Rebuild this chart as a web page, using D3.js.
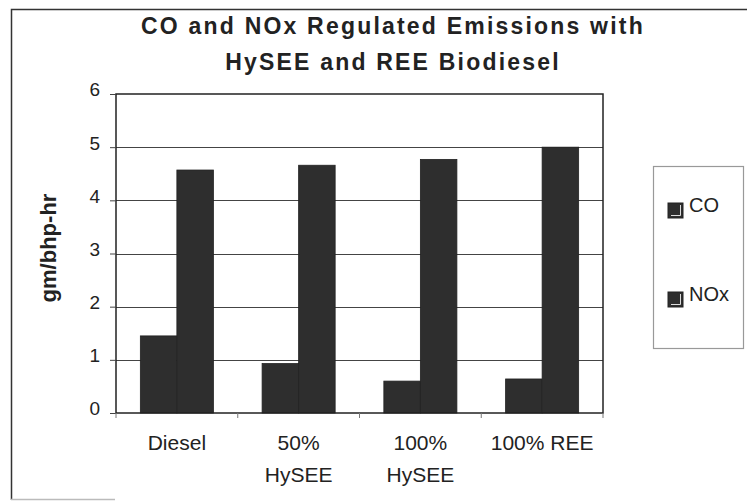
<!DOCTYPE html>
<html>
<head>
<meta charset="utf-8">
<script src="https://cdn.jsdelivr.net/npm/d3@7"></script>
<style>
  html, body { margin: 0; padding: 0; background: #fff; }
  svg { display: block; font-family: "Liberation Sans", Arial, sans-serif; }
</style>
</head>
<body>
<svg id="chart" width="747" height="502"></svg>
<script>
// Emission data (gm/bhp-hr) per fuel
const categories = [["Diesel"], ["50%", "HySEE"], ["100%", "HySEE"], ["100% REE"]];
const seriesNames = ["CO", "NOx"];
const coValues  = [1.45, 0.93, 0.60, 0.64];
const noxValues = [4.57, 4.66, 4.77, 5.00];
const yTicks = [0, 1, 2, 3, 4, 5, 6];
const titleLines = ["CO and NOx Regulated Emissions with", "HySEE and REE Biodiesel"];
const yTitle = "gm/bhp-hr";

const rows = categories.map((c, i) => ({ key: c.join(" "), lines: c, CO: coValues[i], NOx: noxValues[i] }));

const svg = d3.select("#chart");
const plot = { left: 116, right: 603, top: 94, bottom: 413 };
const barFill = "#2e2e2e";
const fontFamily = "'Liberation Sans', Arial, sans-serif";

// Outer chart frame (top, left, bottom edges)
svg.append("path")
  .attr("d", "M747,9.5 H11.5 V500")
  .attr("fill", "none").attr("stroke", "#333").attr("stroke-width", 1.5);
svg.append("line")
  .attr("x1", 11).attr("x2", 115).attr("y1", 499.5).attr("y2", 499.5)
  .attr("stroke", "#bbb").attr("stroke-width", 1.5);

const x0 = d3.scaleBand().domain(rows.map(d => d.key))
  .range([plot.left, plot.right]).paddingInner(0.4).paddingOuter(0.2);
const x1 = d3.scaleBand().domain(seriesNames).range([0, x0.bandwidth()]);
const y = d3.scaleLinear().domain([0, 6]).range([plot.bottom, plot.top]);

// Horizontal gridlines
svg.append("g").selectAll("line").data(yTicks.filter(t => t > 0 && t < 6)).join("line")
  .attr("x1", plot.left).attr("x2", plot.right)
  .attr("y1", d => Math.round(y(d)) + 0.5).attr("y2", d => Math.round(y(d)) + 0.5)
  .attr("stroke", "#444").attr("stroke-width", 1.2);

// Bars
svg.append("g").selectAll("g").data(rows).join("g")
  .attr("transform", d => `translate(${x0(d.key)},0)`)
  .selectAll("rect").data(d => seriesNames.map(s => ({ s, v: d[s] }))).join("rect")
  .attr("x", d => x1(d.s)).attr("width", x1.bandwidth())
  .attr("y", d => y(d.v)).attr("height", d => y(0) - y(d.v))
  .attr("fill", barFill).attr("stroke", "#222").attr("stroke-width", 0.8);

// Plot border
svg.append("rect")
  .attr("x", plot.left).attr("y", plot.top)
  .attr("width", plot.right - plot.left).attr("height", plot.bottom - plot.top)
  .attr("fill", "none").attr("stroke", "#222").attr("stroke-width", 1.5);

// Y axis
const yAxis = d3.axisLeft(y).tickValues(yTicks).tickFormat(d3.format("d")).tickSize(6).tickPadding(10);
const gy = svg.append("g").attr("transform", `translate(${plot.left},0)`).call(yAxis)
  .attr("font-family", fontFamily).attr("font-size", 19);
gy.select(".domain").remove();
gy.selectAll(".tick line").attr("stroke", "#444");
gy.selectAll(".tick text").attr("fill", "#222").attr("dy", "0.1em");

// X axis: ticks between category groups
const step = (plot.right - plot.left) / rows.length;
svg.append("g").selectAll("line").data(d3.range(rows.length + 1)).join("line")
  .attr("x1", i => plot.left + i * step).attr("x2", i => plot.left + i * step)
  .attr("y1", plot.bottom).attr("y2", plot.bottom + 5)
  .attr("stroke", "#777").attr("stroke-width", 1);

// Category labels
svg.append("g").selectAll("text").data(rows).join("text")
  .attr("x", d => x0(d.key) + x0.bandwidth() / 2)
  .attr("y", 450)
  .attr("text-anchor", "middle").attr("font-size", 21).attr("fill", "#222")
  .selectAll("tspan").data(d => d.lines.map((l, k) => ({ l, k, cx: x0(d.key) + x0.bandwidth() / 2 }))).join("tspan")
  .attr("x", d => d.cx).attr("dy", d => d.k === 0 ? 0 : 32)
  .text(d => d.l);

// Title
svg.append("g").selectAll("text").data(titleLines).join("text")
  .attr("x", 393).attr("y", (d, i) => 34 + i * 36)
  .attr("text-anchor", "middle").attr("font-size", 23).attr("font-weight", "bold")
  .attr("fill", "#222").attr("letter-spacing", 2.2)
  .text(d => d);

// Y axis title
svg.append("text")
  .attr("transform", "translate(56,248) rotate(-90)")
  .attr("text-anchor", "middle").attr("font-size", 22).attr("font-weight", "bold")
  .attr("fill", "#222").text(yTitle);

// Legend
const lg = svg.append("g");
lg.append("rect").attr("x", 653.5).attr("y", 166.5).attr("width", 90).attr("height", 182)
  .attr("fill", "#fff").attr("stroke", "#999").attr("stroke-width", 1.2);
const items = lg.selectAll("g").data(seriesNames).join("g")
  .attr("transform", (d, i) => `translate(0,${i * 89})`);
items.append("rect").attr("x", 668).attr("y", 203).attr("width", 15).attr("height", 15)
  .attr("fill", barFill).attr("stroke", "#222");
items.append("path").attr("d", "M671,215.5 H680.5 V205")
  .attr("fill", "none").attr("stroke", "#ddd").attr("stroke-width", 1);
items.append("text").attr("x", 689).attr("y", 212)
  .attr("font-size", 20).attr("fill", "#222").text(d => d);
</script>
</body>
</html>
